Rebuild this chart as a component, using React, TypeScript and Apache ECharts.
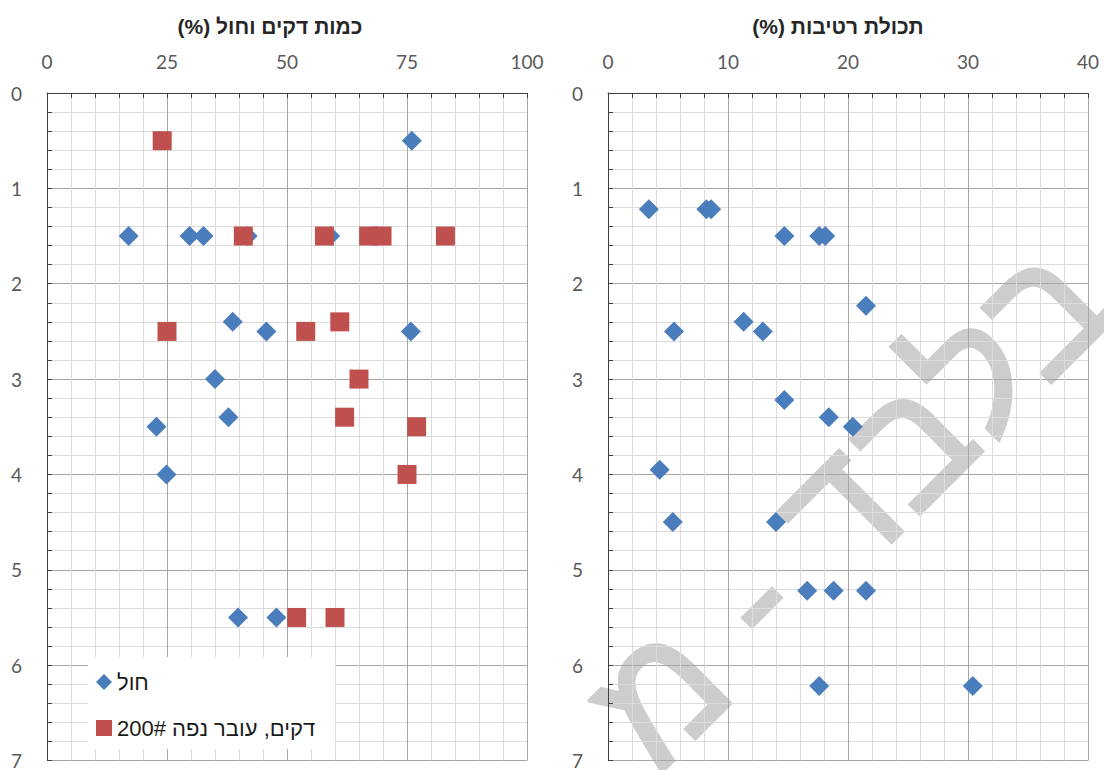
import React, { useEffect, useRef } from "react";
import * as echarts from "echarts";

// Sand and fines content (%) by depth (m) — left panel
const sandPct = [76, 17, 29.7, 32.6, 41.8, 59, 38.7, 45.7, 75.8, 35, 22.8, 37.8, 24.9, 39.8, 47.8];
const sandDepth = [0.5, 1.5, 1.5, 1.5, 1.5, 1.5, 2.4, 2.5, 2.5, 3, 3.5, 3.4, 4, 5.5, 5.5];

const finesPct = [24, 40.9, 57.8, 67, 69.8, 83, 25, 53.9, 61, 65, 62, 77, 75, 52, 60];
const finesDepth = [0.5, 1.5, 1.5, 1.5, 1.5, 1.5, 2.5, 2.5, 2.4, 3, 3.4, 3.5, 4, 5.5, 5.5];

// Moisture content (%) by depth (m) — right panel
const moisturePct = [3.4, 8.2, 8.6, 14.7, 17.6, 18.1, 21.5, 5.5, 11.3, 12.9, 14.7, 18.4, 20.4, 4.3, 5.4, 14, 16.6, 18.8, 21.5, 17.6, 30.4];
const moistureDepth = [1.22, 1.22, 1.22, 1.5, 1.5, 1.5, 2.23, 2.5, 2.4, 2.5, 3.22, 3.4, 3.5, 3.95, 4.5, 4.5, 5.22, 5.22, 5.22, 6.22, 6.22];

const leftTitle = "כמות דקים וחול (%)\u200F";
const rightTitle = "תכולת רטיבות (%)\u200F";
const sandName = "חול";
const finesName = "דקים, עובר נפה 200#";
const moistureName = "תכולת רטיבות";
const watermark = "בלבד - מ";

const zip = (xs: number[], ys: number[]) => xs.map((x, i) => [x, ys[i]]);

const NUM_FONT = "Lato, 'Open Sans', sans-serif";
const HEB_FONT = "'Liberation Sans', Arial, sans-serif";

function xAxisFor(gridIndex: number, max: number, interval: number) {
  return {
    type: "value",
    gridIndex,
    position: "top",
    min: 0,
    max,
    interval,
    axisLine: { show: true, onZero: false, lineStyle: { color: "#404040", width: 1 } },
    axisTick: { show: true, inside: true, length: 5, lineStyle: { color: "#404040" } },
    minorTick: { show: true, splitNumber: 5, length: 5, lineStyle: { color: "#404040" } },
    axisLabel: { margin: 22, color: "#595959", fontSize: 19, fontFamily: NUM_FONT },
    splitLine: { show: true, lineStyle: { color: "#a6a6a6", width: 1 } },
    minorSplitLine: { show: true, lineStyle: { color: "#dcdcdc", width: 1 } },
  };
}

function yAxisFor(gridIndex: number) {
  return {
    type: "value",
    gridIndex,
    inverse: true,
    min: 0,
    max: 7,
    interval: 1,
    axisLine: { show: true, onZero: false, lineStyle: { color: "#404040", width: 1 } },
    axisTick: { show: true, inside: true, length: 5, lineStyle: { color: "#404040" } },
    minorTick: { show: true, splitNumber: 5, length: 5, lineStyle: { color: "#404040" } },
    axisLabel: { margin: 25, color: "#595959", fontSize: 19, fontFamily: NUM_FONT },
    splitLine: { show: true, lineStyle: { color: "#a6a6a6", width: 1 } },
    minorSplitLine: { show: true, lineStyle: { color: "#dcdcdc", width: 1 } },
  };
}

export default function App() {
  const ref = useRef<HTMLDivElement>(null);

  useEffect(() => {
    if (!ref.current) return;
    const chart = echarts.init(ref.current, undefined, { renderer: "svg" });
    chart.setOption({
      animation: false,
      backgroundColor: "#ffffff",
      title: [
        {
          text: leftTitle,
          left: 270,
          top: 16,
          padding: 0,
          textAlign: "center",
          textStyle: { fontSize: 21, fontWeight: "bold", color: "#262626", fontFamily: HEB_FONT },
        },
        {
          text: rightTitle,
          left: 838,
          top: 16,
          padding: 0,
          textAlign: "center",
          textStyle: { fontSize: 21, fontWeight: "bold", color: "#262626", fontFamily: HEB_FONT },
        },
      ],
      grid: [
        { left: 47, top: 93, width: 480, height: 670, containLabel: false },
        { left: 608, top: 93, width: 480, height: 670, containLabel: false },
      ],
      xAxis: [xAxisFor(0, 100, 25), xAxisFor(1, 40, 10)],
      yAxis: [yAxisFor(0), yAxisFor(1)],
      legend: {
        data: [sandName, finesName],
        orient: "vertical",
        left: 88,
        top: 657,
        padding: [14, 20, 10, 8],
        itemGap: 24,
        itemWidth: 16,
        itemHeight: 16,
        backgroundColor: "#ffffff",
        textStyle: { fontSize: 22, color: "#1a1a1a", fontFamily: HEB_FONT },
      },
      graphic: [
        {
          // watermark sits beneath the grid lines
          type: "text",
          x: 846,
          y: 504,
          rotation: Math.PI / 4,
          z: -1,
          silent: true,
          style: {
            text: watermark,
            fontSize: 171,
            fontFamily: HEB_FONT,
            fill: "#cdcdcd",
            stroke: "#cdcdcd",
            lineWidth: 3,
            align: "center",
            verticalAlign: "middle",
          },
        },
      ],
      series: [
        {
          name: sandName,
          type: "scatter",
          xAxisIndex: 0,
          yAxisIndex: 0,
          symbol: "diamond",
          symbolSize: 20,
          itemStyle: { color: "#4a7dbb", opacity: 1 },
          data: zip(sandPct, sandDepth),
        },
        {
          name: finesName,
          type: "scatter",
          xAxisIndex: 0,
          yAxisIndex: 0,
          symbol: "rect",
          symbolSize: 19,
          itemStyle: { color: "#c0504d", opacity: 1 },
          data: zip(finesPct, finesDepth),
        },
        {
          name: moistureName,
          type: "scatter",
          xAxisIndex: 1,
          yAxisIndex: 1,
          symbol: "diamond",
          symbolSize: 20,
          itemStyle: { color: "#4a7dbb", opacity: 1 },
          data: zip(moisturePct, moistureDepth),
        },
      ],
    });
    return () => chart.dispose();
  }, []);

  return (
    <div
      ref={ref}
      style={{ position: "absolute", left: 0, top: 0, width: 1104, height: 770 }}
    />
  );
}
